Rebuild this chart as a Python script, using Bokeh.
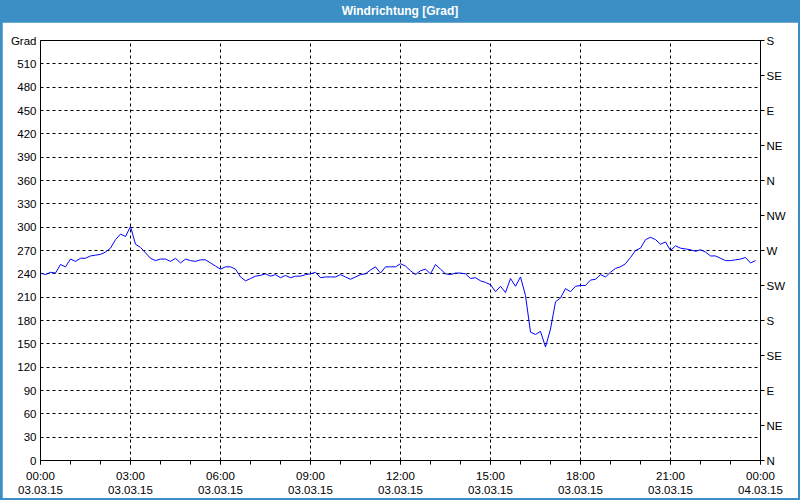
from bokeh.plotting import figure
from bokeh.models import FixedTicker, LinearAxis, Range1d, Div, ColumnDataSource, Grid
from bokeh.layouts import column
from bokeh.embed import file_html
from bokeh.resources import INLINE

# ---- data ----
title_text = "Windrichtung [Grad]"
step_minutes = 10  # one sample every 10 minutes, 00:00 .. 23:50
direction = [
    241, 239, 242, 241, 252, 249, 259, 256, 260, 260,
    263, 264, 265, 268, 273, 284, 291, 288, 301, 278,
    274, 267, 260, 257, 259, 259, 256, 260, 254, 259,
    257, 256, 258, 258, 254, 250, 246, 249, 249, 246,
    236, 231, 234, 237, 238, 240, 237, 239, 235, 238,
    235, 237, 237, 239, 240, 242, 235, 236, 236, 236,
    239, 236, 233, 236, 239, 240, 245, 249, 241, 249,
    249, 249, 253, 250, 244, 239, 244, 246, 240, 252,
    246, 240, 239, 241, 241, 240, 234, 235, 231, 229,
    226, 217, 224, 216, 234, 224, 236, 212, 165, 162,
    166, 146, 169, 204, 209, 221, 217, 224, 225, 225,
    232, 233, 239, 236, 242, 247, 249, 253, 261, 270,
    273, 284, 287, 284, 278, 281, 270, 276, 273, 272,
    271, 269, 271, 268, 263, 263, 260, 257, 257, 258,
    259, 261, 254, 257,
]
hours = [i * step_minutes / 60 for i in range(len(direction))]

x_ticks = [0, 3, 6, 9, 12, 15, 18, 21, 24]
x_tick_labels = ["00:00\n03.03.15", "03:00\n03.03.15", "06:00\n03.03.15",
                 "09:00\n03.03.15", "12:00\n03.03.15", "15:00\n03.03.15",
                 "18:00\n03.03.15", "21:00\n03.03.15", "00:00\n04.03.15"]
y_ticks = list(range(0, 541, 30))
y_top_label = "Grad"
compass_ticks = list(range(0, 541, 45))
compass_labels = ["N", "NE", "E", "SE", "S", "SW", "W", "NW",
                  "N", "NE", "E", "SE", "S"]

FONT = "Liberation Sans"
FSIZE = "11.5px"

src = ColumnDataSource(dict(x=hours, y=direction))

p = figure(frame_width=720, frame_height=420,
           x_range=Range1d(0, 24), y_range=Range1d(0, 540),
           output_backend="svg", toolbar_location=None,
           min_border_left=38, min_border_right=38,
           min_border_top=18, min_border_bottom=38,
           background_fill_color="white", border_fill_color="white",
           outline_line_color="black", outline_line_width=1,
           x_axis_type=None, y_axis_type=None,
           margin=(0, 2, 2, 2))

p.line("x", "y", source=src, line_color="#0000ff", line_width=1)

# bottom axis
xa = LinearAxis(ticker=FixedTicker(ticks=x_ticks, minor_ticks=list(range(0, 25))))
xa.major_label_overrides = {t: l for t, l in zip(x_ticks, x_tick_labels)}
xa.major_tick_out = 4
xa.major_tick_in = 0
xa.minor_tick_out = 4
xa.minor_tick_in = 0
xa.major_label_standoff = 5
xa.major_label_text_font = FONT
xa.major_label_text_font_size = FSIZE
xa.major_label_text_color = "black"
xa.axis_line_color = "black"
xa.major_tick_line_color = "black"
xa.minor_tick_line_color = "black"
p.add_layout(xa, "below")

# left axis
ya = LinearAxis(ticker=FixedTicker(ticks=y_ticks))
ya.major_label_overrides = {540: y_top_label}
ya.major_tick_out = 0
ya.major_tick_in = 0
ya.minor_tick_out = 0
ya.minor_tick_in = 0
ya.major_label_standoff = 4
ya.major_label_text_font = FONT
ya.major_label_text_font_size = FSIZE
ya.major_label_text_color = "black"
ya.axis_line_color = "black"
p.add_layout(ya, "left")

# right compass axis
ra = LinearAxis(ticker=FixedTicker(ticks=compass_ticks))
ra.major_label_overrides = {t: l for t, l in zip(compass_ticks, compass_labels)}
ra.major_tick_out = 4
ra.major_tick_in = 0
ra.minor_tick_out = 0
ra.minor_tick_in = 0
ra.major_label_standoff = 2
ra.major_label_text_font = FONT
ra.major_label_text_font_size = FSIZE
ra.major_label_text_color = "black"
ra.axis_line_color = "black"
ra.major_tick_line_color = "black"
p.add_layout(ra, "right")

# grids
gx = Grid(dimension=0, ticker=FixedTicker(ticks=x_ticks[1:-1]),
          grid_line_color="black", grid_line_dash="3 3", grid_line_width=1)
gy = Grid(dimension=1, ticker=FixedTicker(ticks=y_ticks[1:-1]),
          grid_line_color="black", grid_line_dash="3 3", grid_line_width=1)
p.add_layout(gx)
p.add_layout(gy)

header = Div(text=title_text, width=800, height=22, margin=(0, 0, 0, 0),
             styles={"background-color": "#3c8fc4", "color": "white",
                     "font-weight": "bold", "text-align": "center",
                     "font-family": FONT, "font-size": "12px",
                     "line-height": "22px", "height": "22px",
                     "overflow": "hidden", "padding": "0px",
                     "margin": "0px"})

layout = column(header, p, spacing=0, margin=(0, 0, 0, 0),
                styles={"background-color": "#3c8fc4"})

open("out.html", "w").write(file_html(layout, INLINE))
